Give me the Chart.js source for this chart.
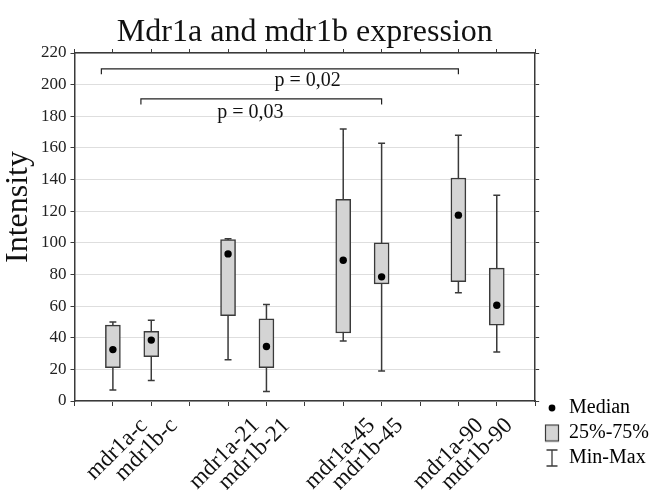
<!DOCTYPE html>
<html><head><meta charset="utf-8">
<script src="https://cdn.jsdelivr.net/npm/chart.js@4/dist/chart.umd.min.js"></script>
<style>html,body{margin:0;padding:0;background:#fff}#wrap{width:659px;height:490px}</style>
</head><body><div id="wrap"><canvas id="c" width="659" height="490"></canvas></div>
<script>
// ---- data ----
const categories   = ['mdr1a-c','mdr1b-c','mdr1a-21','mdr1b-21','mdr1a-45','mdr1b-45','mdr1a-90','mdr1b-90'];
const positions    = [1, 2, 4, 5, 7, 8, 10, 11];
const labelTicks   = [1.81, 2.59, 4.73, 5.52, 7.74, 8.47, 10.56, 11.32];
const minValues    = [7, 13, 26, 6, 38, 19, 68.5, 31];
const q1Values     = [21, 28, 54, 21, 43, 74, 75.5, 48];
const medianValues = [32.5, 38.5, 93, 34.5, 89, 78.5, 117.5, 60.5];
const q3Values     = [48, 44, 102, 52, 127.5, 100, 141, 84];
const maxValues    = [50, 51, 102.5, 61, 172, 163, 168, 130];
const yTicks       = [0, 20, 40, 60, 80, 100, 120, 140, 160, 180, 200, 220];
const bracketStart = [0.7, 1.73];
const bracketEnd   = [10, 8];
const bracketLevel = [210, 191];
const bracketDrop  = [3.5, 3.5];
const pLabels      = ['p = 0,02', 'p = 0,03'];
const pLabelX      = [6.07, 4.58];
const pLabelY      = [202.5, 182];
const legendNames  = ['Median', '25%-75%', 'Min-Max'];

const FONT = 'Liberation Serif';
const INK = '#3a3a3a';
const CAP = 0.09;

// whiskers: vertical min-max line plus caps, built from the arrays
const whiskerData = [];
positions.forEach((p, i) => {
  whiskerData.push({x: p, y: minValues[i]}, {x: p, y: maxValues[i]}, {x: p, y: null});
  whiskerData.push({x: p - CAP, y: maxValues[i]}, {x: p + CAP, y: maxValues[i]}, {x: p, y: null});
  whiskerData.push({x: p - CAP, y: minValues[i]}, {x: p + CAP, y: minValues[i]}, {x: p, y: null});
});
const bracketData = [];
bracketStart.forEach((s, i) => {
  const e = bracketEnd[i], l = bracketLevel[i], d = bracketDrop[i];
  bracketData.push({x: s, y: l - d}, {x: s, y: l}, {x: e, y: l}, {x: e, y: l - d}, {x: e, y: null});
});

// legend icons
function icon(w, h, draw) { const c = document.createElement('canvas'); c.width = w; c.height = h; draw(c.getContext('2d')); return c; }
const legendIcons = [
  icon(10, 10, g => { g.fillStyle = '#000'; g.beginPath(); g.arc(5, 5, 3.4, 0, Math.PI * 2); g.fill(); }),
  icon(16, 19, g => { g.fillStyle = '#d4d4d4'; g.fillRect(1.5, 1.5, 13, 16); g.strokeStyle = INK; g.lineWidth = 1.2; g.strokeRect(1.5, 1.5, 13, 16); }),
  icon(16, 20, g => { g.strokeStyle = INK; g.lineWidth = 1.3; g.beginPath(); g.moveTo(8, 2); g.lineTo(8, 18); g.moveTo(2.5, 2); g.lineTo(13.5, 2); g.moveTo(2.5, 18); g.lineTo(13.5, 18); g.stroke(); })
];

const extras = {
  id: 'extras',
  afterLayout(chart) {
    const lg = chart.legend;
    if (lg) { lg.top = 393; lg.bottom = 485; lg.height = 92; lg.left = 540; lg.right = 659; lg.width = 119; }
  },
  afterDatasetsDraw(chart) {
    const {ctx, scales: {x, y}} = chart;
    ctx.save();
    ctx.font = '20px "' + FONT + '"';
    ctx.fillStyle = '#111';
    ctx.textAlign = 'center';
    ctx.textBaseline = 'middle';
    pLabels.forEach((t, i) => ctx.fillText(t, x.getPixelForValue(pLabelX[i]), y.getPixelForValue(pLabelY[i])));
    ctx.restore();
  }
};

new Chart(document.getElementById('c'), {
  type: 'bar',
  data: {
    datasets: [
      {type: 'scatter', label: 'Median', data: positions.map((p, i) => ({x: p, y: medianValues[i]})),
       pointRadius: 3.7, pointBackgroundColor: '#000', pointBorderColor: '#000', pointBorderWidth: 0, order: 1},
      {type: 'bar', label: '25%-75%', data: positions.map((p, i) => ({x: p, y: [q1Values[i], q3Values[i]]})),
       backgroundColor: '#d4d4d4', borderColor: INK, borderWidth: 1.5, borderSkipped: false, barThickness: 15, order: 2},
      {type: 'line', label: 'Min-Max', data: whiskerData, borderColor: INK, borderWidth: 1.5, pointRadius: 0, spanGaps: false, order: 3},
      {type: 'line', label: 'brackets', data: bracketData, borderColor: '#222', borderWidth: 1.2, pointRadius: 0, spanGaps: false, order: 4}
    ]
  },
  options: {
    responsive: false,
    animation: false,
    events: [],
    layout: {padding: {left: 0, right: 12, top: 0, bottom: 0}},
    plugins: {
      tooltip: {enabled: false},
      title: {display: true, text: 'Mdr1a and mdr1b expression', fullSize: false, color: '#111',
              font: {family: FONT, size: 32, weight: 'normal', lineHeight: 1}, padding: {top: 17, bottom: 0}},
      legend: {
        position: 'right', align: 'start',
        labels: {
          usePointStyle: true, boxWidth: 14, boxHeight: 14, padding: 5, color: '#111',
          font: {family: FONT, size: 20},
          generateLabels: () => legendNames.map((t, i) => ({text: t, pointStyle: legendIcons[i], fillStyle: '#000', strokeStyle: '#000', lineWidth: 0, hidden: false, datasetIndex: i}))
        }
      }
    },
    scales: {
      x: {type: 'linear', position: 'bottom', min: 0, max: 12, offset: false,
          ticks: {display: false, stepSize: 1},
          grid: {offset: false, drawOnChartArea: false, drawTicks: true, tickLength: 5, color: INK},
          border: {display: true, color: INK, width: 1.5}},
      xl: {type: 'linear', position: 'bottom', min: 0, max: 12, offset: false,
           afterBuildTicks: ax => { ax.ticks = labelTicks.map(v => ({value: v})); },
           afterFit: ax => { ax.height = 84; },
           ticks: {autoSkip: false, minRotation: 45, maxRotation: 45, padding: 8, color: '#111',
                   font: {family: FONT, size: 23, lineHeight: 1},
                   callback: (v, i) => categories[i]},
           grid: {display: false, drawTicks: false, offset: false}, border: {display: false}},
      x2: {type: 'linear', position: 'top', min: 0, max: 12, offset: false,
           ticks: {display: false, stepSize: 1},
           grid: {offset: false, drawOnChartArea: false, tickLength: 4, color: INK},
           border: {display: true, color: INK, width: 1.5}},
      y: {type: 'linear', position: 'left', min: 0, max: 220,
          afterBuildTicks: ax => { ax.ticks = yTicks.map(v => ({value: v})); },
          ticks: {color: '#222', padding: 4, font: {family: FONT, size: 17}},
          grid: {color: '#dedede', lineWidth: 1, drawTicks: true, tickLength: 4, tickColor: INK},
          border: {display: true, color: INK, width: 1.5},
          title: {display: true, text: '     Intensity', color: '#111', font: {family: FONT, size: 32, lineHeight: 1}, padding: {top: 3, bottom: 2}}},
      y2: {type: 'linear', position: 'right', min: 0, max: 220,
           afterBuildTicks: ax => { ax.ticks = yTicks.map(v => ({value: v})); },
           ticks: {display: false},
           grid: {drawOnChartArea: false, tickLength: 4, color: INK},
           border: {display: true, color: INK, width: 1.5}}
    }
  },
  plugins: [extras]
});
</script>
</body></html>
